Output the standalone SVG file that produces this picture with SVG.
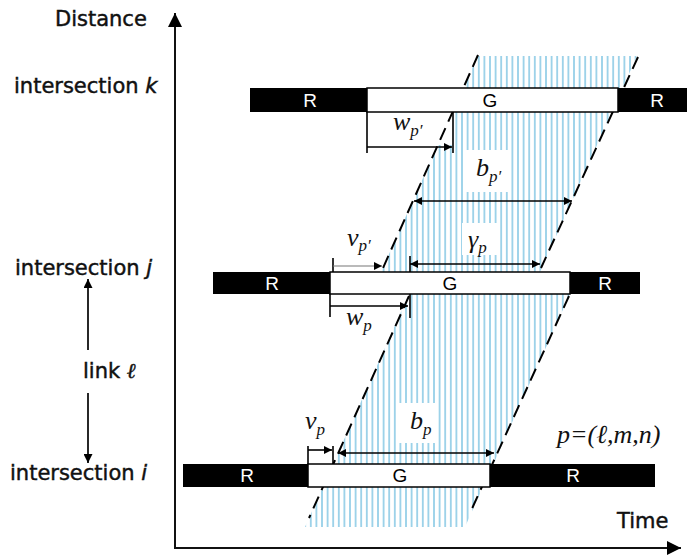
<svg xmlns="http://www.w3.org/2000/svg" width="687" height="559" viewBox="0 0 687 559">
<style>
.sans{font-family:"DejaVu Sans",sans-serif;font-size:21px;fill:#111;stroke:#111;stroke-width:0.45}
.bar{fill:#000}
.green{fill:#fff;stroke:#000;stroke-width:1.5}
.rl{font-family:"Liberation Sans",Arial,sans-serif;font-size:19px;fill:#fff;text-anchor:middle}
.gl{font-family:"Liberation Sans",Arial,sans-serif;font-size:19px;fill:#000;text-anchor:middle}
.dash{stroke:#000;stroke-width:2;stroke-dasharray:13 7;fill:none}
.dim{stroke:#000;stroke-width:1.6;fill:none}
.math{font-family:"Liberation Serif","Times New Roman",serif;font-style:italic;font-size:26px;fill:#111}
.sub{font-size:17px}
</style>
<defs>
<pattern id="hatch" patternUnits="userSpaceOnUse" width="5.6" height="10" x="0" y="0">
<line x1="2.8" y1="0" x2="2.8" y2="10" stroke="#8ccbe6" stroke-width="1.6"/>
</pattern>
<marker id="ah" viewBox="0 0 10 10" refX="10" refY="5" markerWidth="10" markerHeight="8" markerUnits="userSpaceOnUse" orient="auto-start-reverse">
<path d="M0,0 L10,5 L0,10 z" fill="#000"/>
</marker>
<marker id="axh" viewBox="0 0 10 10" refX="10" refY="5" markerWidth="20" markerHeight="14" markerUnits="userSpaceOnUse" orient="auto">
<path d="M0,0 L10,5 L0,10 z" fill="#000"/>
</marker>
<marker id="lh" viewBox="0 0 10 10" refX="10" refY="5" markerWidth="12" markerHeight="9" markerUnits="userSpaceOnUse" orient="auto-start-reverse">
<path d="M0,0 L10,5 L0,10 z" fill="#000"/>
</marker>
</defs>
<rect width="687" height="559" fill="#fff"/>

<g id="band">
<polygon points="477.5,56 637,56 540,272 381,272" fill="url(#hatch)"/>
<polygon points="409,294 570,294 465,527 305,527" fill="url(#hatch)"/>
<rect x="367" y="112" width="85" height="33" fill="#fff"/>
<rect x="465" y="150" width="45" height="42" fill="#fff"/>
<rect x="462" y="223" width="38" height="32" fill="#fff"/>
<rect x="397" y="403" width="40" height="40" fill="#fff"/>
<line class="dash" x1="478" y1="55" x2="383" y2="268"/>
<line class="dash" x1="638" y1="57" x2="541" y2="268"/>
<line class="dash" x1="409" y1="296" x2="309" y2="518"/>
<line class="dash" x1="569" y1="296" x2="470" y2="513"/>
</g>

<g id="axes">
<line x1="175" y1="548" x2="175" y2="13" stroke="#111" stroke-width="2" marker-end="url(#axh)"/>
<line x1="174" y1="548" x2="681" y2="548" stroke="#111" stroke-width="2" marker-end="url(#axh)"/>
<text class="sans" x="55" y="26">Distance</text>
<text class="sans" x="617" y="528">Time</text>
</g>

<g id="intersection-k">
<rect class="bar" x="250" y="88" width="117" height="24"/>
<rect class="bar" x="618" y="88" width="69" height="24"/>
<rect class="green" x="367" y="88" width="251" height="24"/>
<text class="rl" x="310" y="107">R</text>
<text class="gl" x="490" y="107">G</text>
<text class="rl" x="657" y="107">R</text>
<text class="sans" x="14" y="93">intersection <tspan font-style="italic">k</tspan></text>
</g>

<g id="intersection-j">
<rect class="bar" x="213" y="272" width="117" height="22"/>
<rect class="bar" x="570" y="272" width="70" height="22"/>
<rect class="green" x="330" y="272" width="240" height="22"/>
<text class="rl" x="272" y="290">R</text>
<text class="gl" x="450" y="290">G</text>
<text class="rl" x="605" y="290">R</text>
<text class="sans" x="15" y="275">intersection <tspan font-style="italic">j</tspan></text>
</g>

<g id="intersection-i">
<rect class="bar" x="183" y="464" width="125" height="23"/>
<rect class="bar" x="490" y="464" width="165" height="23"/>
<rect class="green" x="308" y="464" width="182" height="23"/>
<text class="rl" x="247" y="482">R</text>
<text class="gl" x="400" y="482">G</text>
<text class="rl" x="573" y="482">R</text>
<text class="sans" x="10" y="480">intersection <tspan font-style="italic">i</tspan></text>
</g>

<g id="link">
<text class="sans" x="83" y="378" font-size="24">link <tspan font-family="Liberation Serif,serif" font-style="italic">ℓ</tspan></text>
</g>

<g id="connectors">
<line x1="88" y1="350" x2="88" y2="279" stroke="#111" stroke-width="1.8" marker-end="url(#lh)"/>
<line x1="88" y1="393" x2="88" y2="463" stroke="#111" stroke-width="1.8" marker-end="url(#lh)"/>
<line class="dim" x1="367" y1="112" x2="367" y2="153"/>
<line class="dim" x1="453" y1="112" x2="453" y2="153"/>
<line class="dim" x1="367" y1="147" x2="452" y2="147" marker-end="url(#ah)"/>
<line class="dim" x1="414" y1="201" x2="572" y2="201" marker-start="url(#ah)" marker-end="url(#ah)"/>
<line class="dim" x1="410" y1="256" x2="410" y2="272"/>
<line class="dim" x1="410" y1="294" x2="410" y2="318"/>
<line class="dim" x1="410" y1="264" x2="540" y2="264" marker-start="url(#ah)" marker-end="url(#ah)"/>
<line class="dim" x1="333" y1="258" x2="333" y2="272"/>
<line x1="333" y1="266" x2="382" y2="266" stroke="#777" stroke-width="1.2" marker-end="url(#ah)"/>
<line class="dim" x1="330" y1="294" x2="330" y2="317"/>
<line class="dim" x1="330" y1="306" x2="408" y2="306" marker-end="url(#ah)"/>
<line class="dim" x1="308" y1="446" x2="308" y2="464"/>
<line class="dim" x1="333" y1="446" x2="333" y2="464"/>
<line class="dim" x1="308" y1="450" x2="332" y2="450" marker-end="url(#ah)"/>
<line class="dim" x1="338" y1="453" x2="494" y2="453" marker-start="url(#ah)" marker-end="url(#ah)"/>
</g>

<g id="labels">
<text class="math" x="393" y="130">w<tspan class="sub" dy="6">p′</tspan></text>
<text class="math" x="476" y="176">b<tspan class="sub" dy="6">p′</tspan></text>
<text class="math" x="468" y="248">γ<tspan class="sub" dy="5">p</tspan></text>
<text class="math" x="347" y="246">v<tspan class="sub" dy="5">p′</tspan></text>
<text class="math" x="346" y="325">w<tspan class="sub" dy="6">p</tspan></text>
<text class="math" x="305" y="429">v<tspan class="sub" dy="6">p</tspan></text>
<text class="math" x="410" y="429">b<tspan class="sub" dy="6">p</tspan></text>
<text class="math" x="557" y="443" font-size="19">p=(ℓ,m,n)</text>
</g>
</svg>
